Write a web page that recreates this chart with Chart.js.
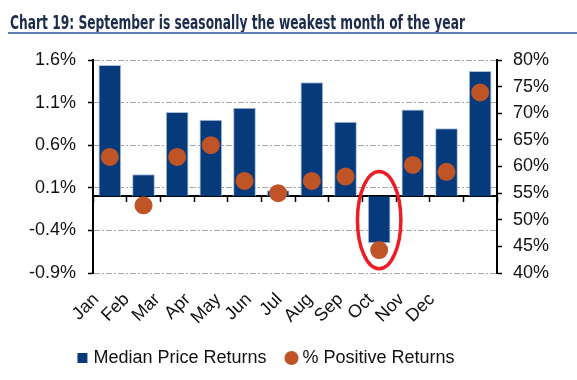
<!DOCTYPE html>
<html><head><meta charset="utf-8">
<script src="https://cdn.jsdelivr.net/npm/chart.js@4"></script>
<style>
html,body{margin:0;padding:0;background:#fff;}
#wrap{position:relative;width:577px;height:380px;overflow:hidden;background:#fff;}
#title{position:absolute;left:10px;top:10px;font:bold 20px "Liberation Sans Narrow","DejaVu Sans Condensed","Liberation Sans",sans-serif;color:#1d2b4c;white-space:nowrap;transform-origin:0 0;}
#rule{position:absolute;left:8px;right:0;top:32px;height:2px;background:#5d7fb6;}
canvas{position:absolute;left:0;top:0;}
</style></head>
<body><div id="wrap"><canvas id="c" width="577" height="380"></canvas><div id="title">Chart 19: September is seasonally the weakest month of the year</div><div id="rule"></div></div>
<script>
const months = ['Jan','Feb','Mar','Apr','May','Jun','Jul','Aug','Sep','Oct','Nov','Dec'];
const medianPriceReturns = [1.54, 0.26, 0.99, 0.90, 1.04, 0.07, 1.34, 0.875, -0.55, 1.02, 0.80, 1.47];
const pctPositiveReturns = [61.8, 52.7, 61.8, 64.0, 57.3, 55.0, 57.3, 58.1, 44.3, 60.3, 59.0, 73.9];
const leftTicks = [-0.9, -0.4, 0.1, 0.6, 1.1, 1.6];
const rightTicks = [40, 45, 50, 55, 60, 65, 70, 75, 80];
const seriesNames = ['Median Price Returns', '% Positive Returns'];
const highlightMonth = 'Sep';
const highlightSpan = [0.29, -0.85]; // left-axis values covered by the ring

// fit title
const t = document.getElementById('title');
const tw = t.getBoundingClientRect().width;
t.style.transform = 'scaleX(' + (455 / tw) + ')';

Chart.defaults.font.family = '"Liberation Sans", Arial, sans-serif';
Chart.defaults.font.size = 18;
Chart.defaults.color = '#111';

const ringPlugin = {
  id: 'ring',
  afterLayout(chart) {
    // legend is centred under the plot's left part, as in the source
    chart.legend.left -= 21;
    chart.legend.right -= 21;
  },
  afterDatasetsDraw(chart) {
    const xs = chart.scales.x, ys = chart.scales.y, ctx = chart.ctx;
    const cx = xs.getPixelForValue(months.indexOf(highlightMonth));
    const yT = ys.getPixelForValue(highlightSpan[0]);
    const yB = ys.getPixelForValue(highlightSpan[1]);
    const rx = 0.645 * xs.width / months.length;
    ctx.save();
    ctx.strokeStyle = '#ee1c25';
    ctx.lineWidth = 3.5;
    ctx.beginPath();
    ctx.ellipse(cx, (yT + yB) / 2, rx, (yB - yT) / 2, 0, 0, Math.PI * 2);
    ctx.stroke();
    ctx.restore();
  }
};

new Chart(document.getElementById('c'), {
  type: 'bar',
  data: {
    labels: months,
    datasets: [
      {
        type: 'bar', label: seriesNames[0], data: medianPriceReturns,
        backgroundColor: '#063a7a', borderColor: '#a9bfdc', borderWidth: 1,
        barPercentage: 0.675, categoryPercentage: 1, yAxisID: 'y', xAxisID: 'x',
        order: 2, pointStyle: 'rect'
      },
      {
        type: 'line', label: seriesNames[1], data: pctPositiveReturns,
        showLine: false, pointRadius: 9, pointHoverRadius: 9,
        pointBackgroundColor: '#bf5527', backgroundColor: '#bf5527', borderColor: '#bf5527',
        pointBorderWidth: 0, borderWidth: 0, yAxisID: 'y2', xAxisID: 'x',
        order: 1, pointStyle: 'circle', clip: false
      }
    ]
  },
  options: {
    responsive: false, animation: false,
    layout: { padding: { top: 60, right: 0, bottom: 3, left: 0 } },
    plugins: {
      tooltip: { enabled: false },
      legend: {
        position: 'bottom',
        labels: {
          usePointStyle: true, boxWidth: 4, boxHeight: 10, padding: 23,
          color: '#111', font: { size: 18 },
          sort: (a, b) => a.datasetIndex - b.datasetIndex,
          generateLabels(chart) {
            const items = Chart.defaults.plugins.legend.labels.generateLabels(chart);
            items.forEach(i => { i.lineWidth = 0; i.strokeStyle = 'rgba(0,0,0,0)'; });
            return items;
          }
        }
      }
    },
    scales: {
      x: {
        type: 'category', position: { y: 0 }, offset: true,
        ticks: { display: false },
        grid: { display: true, drawOnChartArea: false, drawTicks: true, tickLength: 5, tickColor: '#000', tickWidth: 1.5, offset: true },
        border: { display: true, color: '#000', width: 2 }
      },
      x2: {
        type: 'linear', position: 'bottom', min: -0.1, max: 13.13, bounds: 'data', offset: false,
        afterBuildTicks: s => { s.ticks = months.map((m, i) => ({ value: i })); },
        afterFit: s => { s.height = 53; },
        ticks: { autoSkip: false, minRotation: 45, maxRotation: 45, padding: 16, color: '#111', font: { size: 18 },
          callback: v => months[v] },
        grid: { display: false, drawTicks: false, offset: false },
        border: { display: false }
      },
      y: {
        type: 'linear', position: 'left', min: leftTicks[0], max: leftTicks[leftTicks.length - 1],
        afterBuildTicks: s => { s.ticks = leftTicks.map(v => ({ value: v })); },
        afterFit: s => { s.width = 93; },
        ticks: { padding: 12, color: '#111', font: { size: 18 }, callback: v => v.toFixed(1) + '%' },
        grid: { color: '#a8a8a8', lineWidth: 1, drawTicks: true, tickLength: 5, tickColor: '#000', tickWidth: 1.5 },
        border: { display: true, color: '#000', width: 2, dash: [6, 2, 2, 2] }
      },
      y2: {
        type: 'linear', position: 'right', min: rightTicks[0], max: rightTicks[rightTicks.length - 1],
        afterBuildTicks: s => { s.ticks = rightTicks.map(v => ({ value: v })); },
        afterFit: s => { s.width = 80; },
        ticks: { padding: 11, color: '#111', font: { size: 18 }, callback: v => v + '%' },
        grid: { drawOnChartArea: false, drawTicks: true, tickLength: 5, tickColor: '#000', tickWidth: 1.5 },
        border: { display: true, color: '#000', width: 2 }
      }
    }
  },
  plugins: [ringPlugin]
});
</script>
</body></html>
